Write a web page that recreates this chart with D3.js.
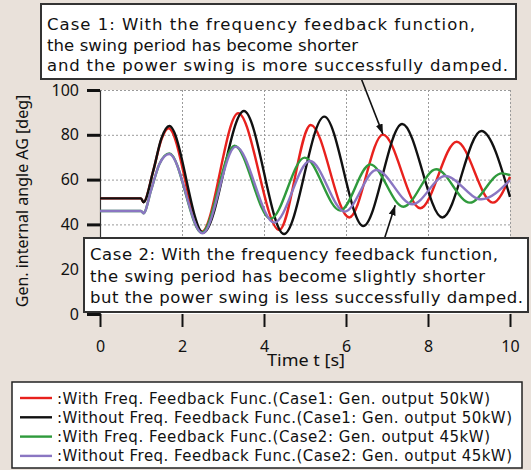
<!DOCTYPE html>
<html><head><meta charset="utf-8">
<script src="https://cdn.jsdelivr.net/npm/d3@7"></script>
<style>
html,body{margin:0;padding:0;background:#e9e1da;}
svg{display:block;}
text{font-family:"Noto Sans","DejaVu Sans",sans-serif;fill:#111;}
.wide{font-family:"DejaVu Sans","Noto Sans",sans-serif;}
</style></head>
<body>
<script>
// ---- data ----
const xTicks = [0, 2, 4, 6, 8, 10];
const yTicks = [0, 20, 40, 60, 80, 100];
const case1With = [[0,51.6],[1.0,51.6],[1.06,49.9],[1.3,64],[1.5,78],[1.67,82.9],[2.48,36.7],[3.37,89.6],[4.37,37.5],[5.14,84.4],[6.08,43.1],[6.9,80.1],[7.81,47.2],[8.7,76.9],[9.58,49.7],[10,61.3]];
const case1Without = [[0,51.6],[1.0,51.6],[1.06,49.9],[1.3,64],[1.5,78.5],[1.69,83.9],[2.52,36.3],[3.51,90.6],[4.49,35.7],[5.47,88.1],[6.42,39.3],[7.37,84.8],[8.35,43.1],[9.3,81.7],[10,52.3]];
const case2With = [[0,46],[1.0,46],[1.06,45],[1.25,55.5],[1.45,67],[1.69,71.7],[2.48,36.3],[3.28,75.1],[4.16,42.5],[4.99,69.8],[5.86,46.2],[6.59,66.8],[7.4,47.9],[8.2,64.6],[9.02,49.7],[9.8,62.8],[10,62]];
const case2Without = [[0,46],[1.0,46],[1.06,45],[1.25,55.5],[1.45,67],[1.69,71.4],[2.5,36],[3.31,74.7],[4.25,40.8],[5.12,68.3],[5.97,45.7],[6.74,64.3],[7.62,49],[8.42,61.6],[9.3,51.2],[10,59.8]];
const seriesNames = [
  ":With Freq. Feedback Func.(Case1: Gen. output 50kW)",
  ":Without Freq. Feedback Func.(Case1: Gen. output 50kW)",
  ":With Freq. Feedback Func.(Case2: Gen. output 45kW)",
  ":Without Freq. Feedback Func.(Case2: Gen. output 45kW)"
];
const seriesColors = ["#e8211d", "#111111", "#2f9a3c", "#8a76c2"];
const case1Note = ["Case 1: With the frequency feedback function,", "the swing period has become shorter", "and the power swing is more successfully damped."];
const case2Note = ["Case 2: With the frequency feedback function,", "the swing period has become slightly shorter", "but the power swing is less successfully damped."];

// text widths measured on the reference (layout only)
const case1Widths = [428, 311, 461];
const case2Widths = [408, 395, 433];
const legendWidths = [433, 455, 433, 455];

const W = 531, H = 470;
const svg = d3.select("body").append("svg").attr("width", W).attr("height", H);
svg.append("rect").attr("width", W).attr("height", H).attr("fill", "#e9e1da");

const x = d3.scaleLinear().domain([0, 10]).range([100, 510]);
const y = d3.scaleLinear().domain([0, 100]).range([314, 90]);

// plot background
svg.append("rect").attr("x", x(0)).attr("y", y(100)).attr("width", x(10) - x(0)).attr("height", y(0) - y(100)).attr("fill", "#ffffff");

// grid
const grid = svg.append("g").attr("stroke", "#9a9a9a").attr("stroke-width", 1).attr("stroke-dasharray", "2,2");
grid.selectAll(".gx").data(xTicks.filter(d => d > 0)).join("line")
  .attr("x1", d => x(d) + 0.5).attr("x2", d => x(d) + 0.5).attr("y1", y(100)).attr("y2", y(0));
grid.selectAll(".gy").data(yTicks.filter(d => d > 0)).join("line")
  .attr("x1", x(0)).attr("x2", x(10)).attr("y1", d => y(d) + 0.5).attr("y2", d => y(d) + 0.5);

// y axis
const yAxis = d3.axisLeft(y).tickValues(yTicks).tickSize(13).tickPadding(8).tickSizeOuter(0);
const gy = svg.append("g").attr("transform", `translate(${x(0)},0)`).call(yAxis);
gy.select(".domain").attr("stroke", "#333").attr("stroke-width", 1.2);
gy.selectAll(".tick line").attr("stroke", "#111").attr("stroke-width", 3);
gy.selectAll(".tick text").style("font-size", "16px").attr("fill", "#111");

// x axis (ticks only)
const xAxis = d3.axisBottom(x).tickValues(xTicks).tickSize(13).tickPadding(14).tickSizeOuter(0);
const gx = svg.append("g").attr("transform", `translate(0,${y(0)})`).call(xAxis);
gx.select(".domain").remove();
gx.selectAll(".tick line").attr("stroke", "#111").attr("stroke-width", 2);
gx.selectAll(".tick text").style("font-size", "16px").attr("fill", "#111");

// curves
const line = d3.line().x(d => x(d[0])).y(d => y(d[1])).curve(d3.curveMonotoneX);
const allSeries = [case1With, case1Without, case2With, case2Without];
svg.append("g").selectAll("path").data(allSeries).join("path")
  .attr("d", line).attr("fill", "none")
  .attr("stroke", (d, i) => seriesColors[i]).attr("stroke-width", 2.4)
  .attr("stroke-linejoin", "round");

// axis titles
svg.append("text").attr("x", 306).attr("y", 366).attr("text-anchor", "middle")
  .attr("textLength", 78).attr("lengthAdjust", "spacingAndGlyphs").style("font-size", "16px").text("Time t [s]");
svg.append("text").attr("transform", "translate(28,201) rotate(-90)").attr("text-anchor", "middle")
  .style("font-size", "16px").text("Gen. internal angle AG [deg]");

// arrows
const defs = svg.append("defs");
defs.append("marker").attr("id", "ah").attr("viewBox", "0 0 10 10").attr("refX", 10).attr("refY", 5)
  .attr("markerWidth", 10).attr("markerHeight", 10).attr("markerUnits", "userSpaceOnUse").attr("orient", "auto")
  .append("path").attr("d", "M0,1.5 L10,5 L0,8.5 Z").attr("fill", "#111");
svg.append("line").attr("x1", 361).attr("y1", 78).attr("x2", x(6.9)).attr("y2", y(80.3))
  .attr("stroke", "#111").attr("stroke-width", 1.6).attr("marker-end", "url(#ah)");
svg.append("line").attr("x1", 384).attr("y1", 240).attr("x2", x(7.2)).attr("y2", y(48.5))
  .attr("stroke", "#111").attr("stroke-width", 1.6).attr("marker-end", "url(#ah)");

// note boxes
function noteBox(bx, by, bw, bh, lines, widths, tx, ty, lh, fs) {
  const g = svg.append("g");
  g.append("rect").attr("x", bx).attr("y", by).attr("width", bw).attr("height", bh)
    .attr("fill", "#fff").attr("stroke", "#333").attr("stroke-width", 2);
  g.selectAll("text").data(lines).join("text").attr("class", "wide")
    .attr("x", tx).attr("y", (d, i) => ty + i * lh)
    .attr("textLength", (d, i) => widths[i]).attr("lengthAdjust", "spacing")
    .style("font-size", fs + "px").text(d => d);
}
noteBox(41, 4, 475, 75, case1Note, case1Widths, 47, 30, 20.5, 16.5);
noteBox(84, 238, 444, 74, case2Note, case2Widths, 90, 260, 21.5, 16.5);

// legend
const lg = svg.append("g");
lg.append("rect").attr("x", 12).attr("y", 382).attr("width", 510).attr("height", 86)
  .attr("fill", "#fff").attr("stroke", "#222").attr("stroke-width", 1.5);
const rows = lg.selectAll(".row").data(seriesNames).join("g")
  .attr("transform", (d, i) => `translate(0,${398 + i * 19.3})`);
rows.append("line").attr("x1", 20).attr("x2", 52).attr("y1", 0).attr("y2", 0)
  .attr("stroke", (d, i) => seriesColors[i]).attr("stroke-width", 2.4);
rows.append("text").attr("class", "wide").attr("x", 57).attr("y", 5.5)
  .attr("textLength", (d, i) => legendWidths[i]).attr("lengthAdjust", "spacing")
  .style("font-size", "15px").text(d => d);
</script>
</body></html>
